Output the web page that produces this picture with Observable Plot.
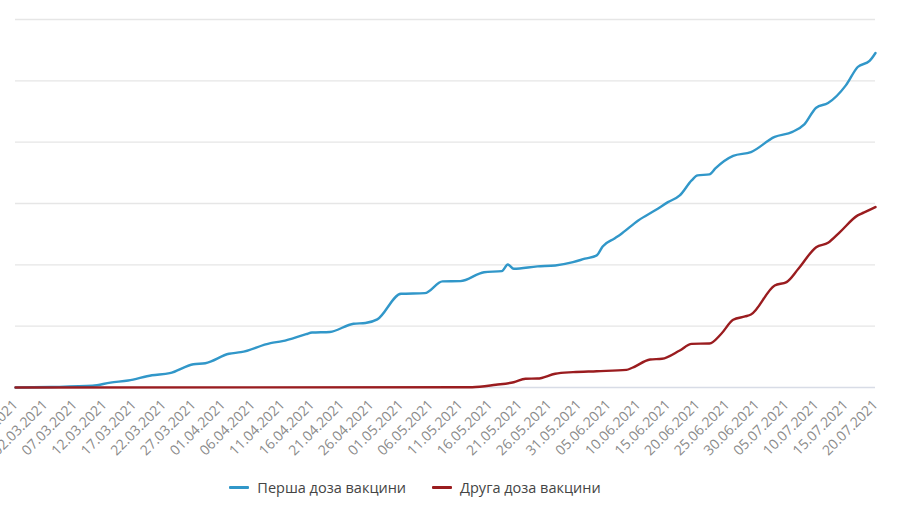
<!DOCTYPE html>
<html>
<head>
<meta charset="utf-8">
<script src="https://cdn.jsdelivr.net/npm/d3@7"></script>
<script src="https://cdn.jsdelivr.net/npm/@observablehq/plot@0.6"></script>
<style>
  html, body { margin: 0; padding: 0; background: #fff; }
  #chart { width: 900px; }
  .legend { height: 35px; display: flex; justify-content: center; align-items: center; gap: 26px;
    font-family: "Open Sans", sans-serif; font-size: 14.5px; color: #444; padding-right: 70px; box-sizing: border-box; }
  .legend .item { display: flex; align-items: center; gap: 8px; }
  .legend .sw { width: 20px; height: 3px; border-radius: 1px; display: inline-block; }
</style>
</head>
<body>
<div id="chart"></div>
<script>
// Series names
const seriesNames = ["Перша доза вакцини", "Друга доза вакцини"];
const seriesColors = ["#3197c9", "#9a1c1f"];

// First dose (thousands of people), dates dd.mm.yyyy
const firstDates = ["25.02.2021","03.03.2021","10.03.2021","13.03.2021","16.03.2021","20.03.2021","23.03.2021","27.03.2021","29.03.2021","02.04.2021","04.04.2021","09.04.2021","11.04.2021","15.04.2021","16.04.2021","19.04.2021","23.04.2021","25.04.2021","27.04.2021","01.05.2021","05.05.2021","08.05.2021","11.05.2021","15.05.2021","18.05.2021","19.05.2021","20.05.2021","24.05.2021","27.05.2021","30.05.2021","01.06.2021","03.06.2021","04.06.2021","06.06.2021","07.06.2021","10.06.2021","13.06.2021","15.06.2021","17.06.2021","19.06.2021","20.06.2021","22.06.2021","23.06.2021","26.06.2021","29.06.2021","03.07.2021","06.07.2021","08.07.2021","10.07.2021","12.07.2021","15.07.2021","17.07.2021","19.07.2021","20.07.2021"];
const firstValues = [0,4,14,40,57,100,117,190,198,275,288,362,378,435,448,453,520,526,555,764,769,865,867,940,949,1003,968,987,995,1022,1050,1077,1150,1215,1248,1362,1449,1511,1566,1688,1729,1737,1786,1888,1919,2043,2084,2145,2281,2319,2463,2613,2662,2727];

// Second dose (thousands of people)
const secondDates = ["25.02.2021","13.05.2021","17.05.2021","20.05.2021","22.05.2021","24.05.2021","27.05.2021","30.05.2021","03.06.2021","08.06.2021","09.06.2021","12.06.2021","14.06.2021","17.06.2021","19.06.2021","22.06.2021","24.06.2021","26.06.2021","28.06.2021","29.06.2021","03.07.2021","05.07.2021","07.07.2021","10.07.2021","12.07.2021","14.07.2021","17.07.2021","18.07.2021","20.07.2021"];
const secondValues = [0,2,22,43,71,73,112,125,133,144,161,228,234,302,356,359,438,552,579,595,832,859,968,1144,1180,1267,1403,1425,1471];

// X tick labels (every 5 days)
const tickLabels = ["25.02.2021","02.03.2021","07.03.2021","12.03.2021","17.03.2021","22.03.2021","27.03.2021","01.04.2021","06.04.2021","11.04.2021","16.04.2021","21.04.2021","26.04.2021","01.05.2021","06.05.2021","11.05.2021","16.05.2021","21.05.2021","26.05.2021","31.05.2021","05.06.2021","10.06.2021","15.06.2021","20.06.2021","25.06.2021","30.06.2021","05.07.2021","10.07.2021","15.07.2021","20.07.2021"];

// Horizontal grid values (thousands)
const gridValues = [500, 1000, 1500, 2000, 2500, 3000];

const parse = d3.utcParse("%d.%m.%Y");
const fmt = d3.utcFormat("%d.%m.%Y");

const data = [
  ...firstDates.map((d, i) => ({date: parse(d), value: firstValues[i], series: seriesNames[0]})),
  ...secondDates.map((d, i) => ({date: parse(d), value: secondValues[i], series: seriesNames[1]}))
];
const ticks = tickLabels.map(parse);

const chart = Plot.plot({
  width: 900,
  height: 470,
  marginLeft: 15,
  marginRight: 25,
  marginTop: 19,
  marginBottom: 83,
  style: {fontFamily: "Open Sans, sans-serif", fontSize: "14px", color: "#8a8a8a", background: "#fff"},
  x: {type: "utc", domain: [parse("25.02.2021"), parse("20.07.2021")], ticks: ticks, tickFormat: fmt, tickRotate: -45, tickSize: 0, tickPadding: 15, label: null},
  y: {domain: [0, 3000], axis: null},
  color: {domain: seriesNames, range: seriesColors},
  marks: [
    Plot.ruleY(gridValues, {stroke: "#e6e6e6", strokeWidth: 1.3}),
    Plot.ruleY([0], {stroke: "#d8dce6", strokeWidth: 1.5}),
    Plot.line(data, {x: "date", y: "value", z: "series", stroke: "series", strokeWidth: 2.4, curve: "monotone-x"})
  ]
});
document.getElementById("chart").appendChild(chart);

const legend = document.createElement("div");
legend.className = "legend";
seriesNames.forEach((n, i) => {
  const it = document.createElement("div");
  it.className = "item";
  const sw = document.createElement("span");
  sw.className = "sw";
  sw.style.background = seriesColors[i];
  const t = document.createElement("span");
  t.textContent = n;
  it.appendChild(sw); it.appendChild(t);
  legend.appendChild(it);
});
document.getElementById("chart").appendChild(legend);
</script>
</body>
</html>
